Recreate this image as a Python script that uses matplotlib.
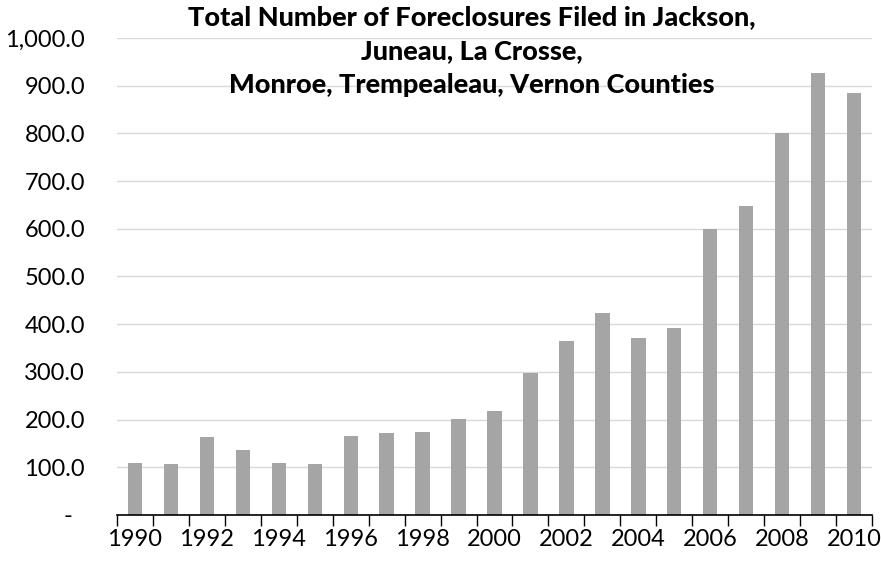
import numpy as np
import matplotlib
matplotlib.use("Agg")
import matplotlib.pyplot as plt
from matplotlib.ticker import FixedLocator, FuncFormatter

plt.rcParams['font.family'] = ['Lato', 'DejaVu Sans']

years = list(range(1990, 2011))
foreclosures = [109, 107, 164, 137, 110, 106, 166, 171, 173, 202, 219,
                297, 365, 423, 371, 393, 600, 648, 800, 927, 885]
title = ("Total Number of Foreclosures Filed in Jackson,\n"
         "Juneau, La Crosse,\n"
         "Monroe, Trempealeau, Vernon Counties")

fig = plt.figure(figsize=(8.81, 5.63), dpi=100)
ax = fig.add_axes([0.1328, 0.0853, 0.8570, 0.8472])

x = np.arange(len(years))
ax.bar(x, foreclosures, width=0.4, color='#A5A5A5', zorder=2)

ax.set_xlim(-0.5, len(years) - 0.5)
ax.set_ylim(0, 1000)

# y axis: gridlines only, accounting style labels
ax.set_yticks(np.arange(0, 1001, 100))
ax.yaxis.set_major_formatter(FuncFormatter(
    lambda v, p: '-  ' if v == 0 else f'{v:,.1f}'))
ax.tick_params(axis='y', length=0, pad=23, labelsize=17)
ax.grid(axis='y', color='#D9D9D9', linewidth=1, zorder=0)

# x axis: tick marks between categories, labels every other year
ax.xaxis.set_major_locator(FixedLocator(np.arange(-0.5, len(years), 1)))
ax.xaxis.set_major_formatter(FuncFormatter(lambda v, p: ''))
ax.xaxis.set_minor_locator(FixedLocator(x[::2]))
ax.set_xticklabels([str(y) for y in years[::2]], minor=True)
ax.tick_params(axis='x', which='major', length=8, width=1, direction='out')
ax.tick_params(axis='x', which='minor', length=0, pad=10, labelsize=17)

for side in ['top', 'right', 'left']:
    ax.spines[side].set_visible(False)
ax.spines['bottom'].set_linewidth(1.2)

fig.text(472 / 881, 1 - 5 / 563, title, ha='center', va='top',
         fontsize=19.5, fontweight='black', linespacing=1.5)

fig.savefig('out.png', dpi=100)
